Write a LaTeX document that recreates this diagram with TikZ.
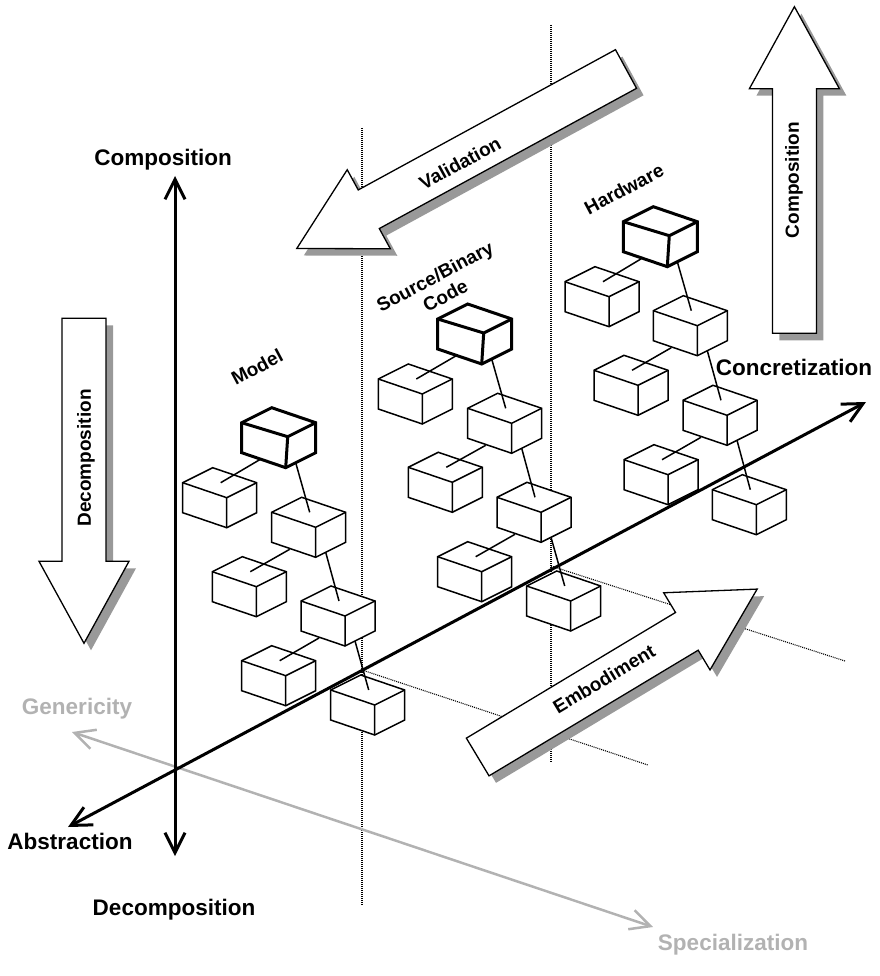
\documentclass[tikz,border=0pt]{standalone}
\usepackage{fontspec}
\setmainfont{Liberation Sans}
\usetikzlibrary{arrows.meta,calc}

\definecolor{axisgray}{gray}{0.70}
\definecolor{shadowgray}{gray}{0.60}

\tikzset{
  % isometric component box; origin = left corner of the top face
  box/.pic={
    \path[pic actions] (0,0) -- (30,-15) -- (74,0) -- (74,30) -- (44,45) -- (0,30) -- cycle;
    \path[pic actions, fill=none] (0,0) -- (44,15) -- (74,0) (44,15) -- (44,45);
    \coordinate (-top) at (38,0);
    \coordinate (-bl) at (18,37);
    \coordinate (-br) at (54,40);
  },
  % the same box with a slightly skewed front edge, used for the column heads
  keycube/.pic={
    \path[pic actions] (0,0) -- (30,-15) -- (74,0) -- (74,30) -- (44,45) -- (0,30) -- cycle;
    \path[pic actions, fill=none] (0,0) -- (46,14) -- (74,0) (46,14) -- (44,45);
    \coordinate (-top) at (38,0);
    \coordinate (-bl) at (18,37);
    \coordinate (-br) at (54,40);
  },
  % hollow block arrow of length #1 along +x, tail centre at the origin
  barrow/.pic={
    \path[pic actions] (0,-22) -- ({#1-82},-22) -- ({#1-82},-45) -- (#1,0)
      -- ({#1-82},45) -- ({#1-82},22) -- (0,22) -- cycle;
  },
  plainbox/.style={draw, fill=white, line width=1.5pt, line join=miter},
  keybox/.style={draw, fill=white, line width=3pt, line join=miter},
  link/.style={line width=1.5pt},
  blockarrow/.style={draw, fill=white, line width=1.3pt, line join=miter},
  blockshadow/.style={fill=shadowgray},
  dotline/.style={line width=1.1pt, dash pattern=on 1pt off 1pt},
  axtip/.tip={Straight Barb[length=20pt,width=20pt]},
  mainaxis/.style={line width=3pt, axtip-axtip},
  grayaxis/.style={line width=2.5pt, draw=axisgray, axtip-axtip},
  axislabel/.style={font=\fontsize{22.5}{26}\selectfont\bfseries, inner sep=1pt},
  graylabel/.style={axislabel, text=axisgray},
  innerlabel/.style={font=\fontsize{19}{22}\selectfont\bfseries, inner sep=1pt, align=center},
}

\begin{document}
\begin{tikzpicture}[x=1pt, y=-1pt]
\useasboundingbox (0,0) rectangle (879,976);

% ---- reference points ----
\coordinate (vtop) at (175,176);
\coordinate (vbot) at (175,856);
\coordinate (abs) at (68,827);
\coordinate (con) at (866,402);
\coordinate (gen) at (72,732);
\coordinate (spec) at (653,927);

% ---- dotted guide planes ----
\coordinate (da1) at (362,128);
\coordinate (da2) at (362,905);
\coordinate (db1) at (551,25);
\coordinate (db2) at (551,762);
\coordinate (dc1) at (362,670);
\coordinate (dc2) at (648,765);
\coordinate (dd1) at (551,566);
\coordinate (dd2) at (845,661);
\draw[dotline] (da1) -- (da2);
\draw[dotline] (db1) -- (db2);
\draw[dotline] (dc1) -- (dc2);
\draw[dotline] (dd1) -- (dd2);

% ---- genericity / specialization axis ----
\draw[grayaxis] (gen) -- (spec);

% ---- block arrows with drop shadows ----
\coordinate (tcomp) at (794.4,333.3);
\coordinate (tdecomp) at (84,318.3);
\coordinate (tvalid) at (626,69);
\coordinate (tembod) at (477.7,757);

\pic[blockshadow, rotate=90] at ($(tcomp)+(7,7)$) {barrow=326.6};
\pic[blockarrow, rotate=90] at (tcomp) {barrow=326.6};

\pic[blockshadow, rotate=-90] at ($(tdecomp)+(7,7)$) {barrow=325};
\pic[blockarrow, rotate=-90] at (tdecomp) {barrow=325};

\pic[blockshadow, rotate=208.6] at ($(tvalid)+(7,7)$) {barrow=375};
\pic[blockarrow, rotate=208.6] at (tvalid) {barrow=375};

\pic[blockshadow, rotate=31] at ($(tembod)+(7,7)$) {barrow=326};
\pic[blockarrow, rotate=31] at (tembod) {barrow=326};

\node[innerlabel, rotate=90] (tcompl) at (794,180) {Composition};
\node[innerlabel, rotate=90] (tdecompl) at (86,458) {Decomposition};
\node[innerlabel, rotate=28.6] (tvalidl) at (460,163) {Validation};
\node[innerlabel, rotate=31] (tembodl) at (604,679) {Embodiment};

% ---- model column ----
\pic[keybox] (M0) at (241.7,422.7) {keycube};
\pic[plainbox] (M1) at (182.7,482.7) {box};
\pic[plainbox] (M2) at (271.7,512.3) {box};
\pic[plainbox] (M3) at (212.3,571.7) {box};
\pic[plainbox] (M4) at (301,601) {box};
\pic[plainbox] (M5) at (241.7,660.7) {box};
\pic[plainbox] (M6) at (330.7,690) {box};

% ---- source / binary code column ----
\pic[keybox] (S0) at (437.7,319) {keycube};
\pic[plainbox] (S1) at (378.3,379) {box};
\pic[plainbox] (S2) at (467.7,408.3) {box};
\pic[plainbox] (S3) at (408.3,467.3) {box};
\pic[plainbox] (S4) at (497,497.3) {box};
\pic[plainbox] (S5) at (437.7,556.7) {box};
\pic[plainbox] (S6) at (526.7,586) {box};

% ---- hardware column ----
\pic[keybox] (H0) at (623.3,221.7) {keycube};
\pic[plainbox] (H1) at (565,281.7) {box};
\pic[plainbox] (H2) at (653.3,310.7) {box};
\pic[plainbox] (H3) at (594,370.3) {box};
\pic[plainbox] (H4) at (683,400.3) {box};
\pic[plainbox] (H5) at (624,459.7) {box};
\pic[plainbox] (H6) at (712.3,489.7) {box};

% ---- hierarchy links ----
\foreach \c in {M,S,H}{
  \draw[link] (\c0-bl) -- (\c1-top);
  \draw[link] (\c0-br) -- (\c2-top);
  \draw[link] (\c2-bl) -- (\c3-top);
  \draw[link] (\c2-br) -- (\c4-top);
  \draw[link] (\c4-bl) -- (\c5-top);
  \draw[link] (\c4-br) -- (\c6-top);
}

% ---- main axes ----
\draw[mainaxis] (vbot) -- (vtop);
\draw[mainaxis] (abs) -- (con);

% ---- column titles ----
\node[innerlabel, rotate=28] (lmodel) at (257,367) {Model};
\node[innerlabel, rotate=28] (lsource) at (440,286) {Source/Binary\\Code};
\node[innerlabel, rotate=28] (lhard) at (624,189) {Hardware};

% ---- axis labels ----
\node[axislabel] (lcomp) at (163,160) {Composition};
\node[axislabel] (ldecomp) at (174,910) {Decomposition};
\node[axislabel] (labs) at (70,841) {Abstraction};
\node[axislabel] (lcon) at (794,367) {Concretization};
\node[graylabel] (lgen) at (77,709) {Genericity};
\node[graylabel] (lspec) at (733,945) {Specialization};
\end{tikzpicture}
\end{document}
